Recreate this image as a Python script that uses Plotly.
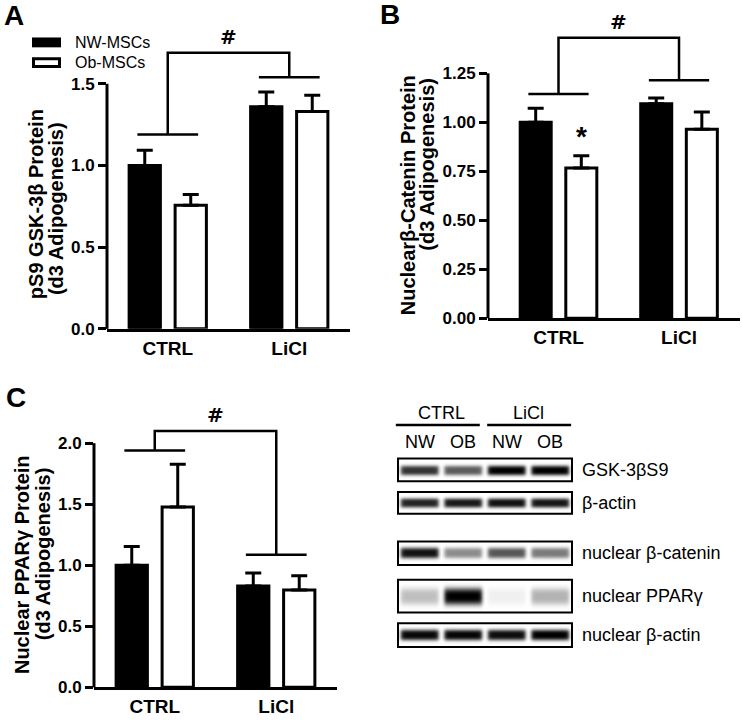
import numpy as np
import plotly.graph_objects as go

W, H = 742, 721
FONT = "Arial, Liberation Sans, sans-serif"

# ---------------- data ----------------
groups = ["CTRL", "LiCl"]
series_names = ["NW-MSCs", "Ob-MSCs"]

# Panel A: pS9 GSK-3beta
a_nw = [1.00, 1.36]
a_nw_err = [0.093, 0.09]
a_ob = [0.756, 1.33]
a_ob_err = [0.066, 0.10]
a_ticks = [0.0, 0.5, 1.0, 1.5]
a_bracket = [1.19, 1.54, 1.69]   # CTRL line, LiCl line, top

# Panel B: nuclear beta-catenin
b_nw = [1.00, 1.094]
b_nw_err = [0.072, 0.03]
b_ob = [0.767, 0.965]
b_ob_err = [0.062, 0.087]
b_ticks = [0.0, 0.25, 0.50, 0.75, 1.00, 1.25]
b_bracket = [1.144, 1.215, 1.432]

# Panel C: nuclear PPARgamma
c_nw = [1.00, 0.83]
c_nw_err = [0.153, 0.107]
c_ob = [1.478, 0.797]
c_ob_err = [0.35, 0.116]
c_ticks = [0.0, 0.5, 1.0, 1.5, 2.0]
c_bracket = [1.94, 1.086, 2.10]

# Blot (band darkness 0..1)
blot_lanes = ["NW", "OB", "NW", "OB"]
blot_conditions = ["CTRL", "LiCl"]
blot_rows = ["GSK-3βS9", "β-actin", "nuclear β-catenin", "nuclear PPARγ", "nuclear β-actin"]
blot_intensity = [
    [0.80, 0.64, 1.00, 1.00],
    [0.86, 0.90, 0.93, 0.91],
    [0.93, 0.45, 0.66, 0.52],
    [0.25, 1.00, 0.06, 0.30],
    [0.97, 0.98, 0.95, 1.00],
]

# ---------------- layout geometry (pixels) ----------------
panels = [
    dict(key="", nw=a_nw, nwe=a_nw_err, ob=a_ob, obe=a_ob_err, ticks=a_ticks, fmt=".1f",
         br=a_bracket, x0=107, x1=350, xr=[-0.5, 1.5], y0=333.5, unit=165.67, ytop=1.72,
         title=["pS9 GSK-3β Protein", "(d3 Adipogenesis)"], tpos=[(36, 207), (56, 212)],
         letter=("A", 14, 16), star=False),
    dict(key="2", nw=b_nw, nwe=b_nw_err, ob=b_ob, obe=b_ob_err, ticks=b_ticks, fmt=".2f",
         br=b_bracket, x0=488, x1=740, xr=[-0.585, 1.506], y0=322.7, unit=198.7, ytop=1.45,
         title=["Nuclearβ-Catenin Protein", "(d3 Adipogenesis)"], tpos=[(408, 198), (427, 167)],
         letter=("B", 390, 15), star=True),
    dict(key="3", nw=c_nw, nwe=c_nw_err, ob=c_ob, obe=c_ob_err, ticks=c_ticks, fmt=".1f",
         br=c_bracket, x0=94, x1=337, xr=[-0.5, 1.5], y0=697, unit=123.8, ytop=2.15,
         title=["Nuclear PPARγ Protein", "(d3 Adipogenesis)"], tpos=[(22, 573), (43, 562)],
         letter=("C", 16, 403), star=False),
]

fig = go.Figure()
shapes = []
annotations = []
layout_axes = {}
xpos = list(range(len(groups)))

for p in panels:
    k = p["key"]
    xa, ya = "x" + k, "y" + k
    fig.add_trace(go.Bar(
        x=xpos, y=p["nw"], name=series_names[0], xaxis=xa, yaxis=ya, showlegend=False,
        marker=dict(color="black", line=dict(color="black", width=3)),
        error_y=dict(type="data", symmetric=False, array=p["nwe"], arrayminus=[0] * len(xpos),
                     color="black", thickness=3, width=8)))
    fig.add_trace(go.Bar(
        x=xpos, y=p["ob"], name=series_names[1], xaxis=xa, yaxis=ya, showlegend=False,
        marker=dict(color="white", line=dict(color="black", width=3)),
        error_y=dict(type="data", symmetric=False, array=p["obe"], arrayminus=[0] * len(xpos),
                     color="black", thickness=3, width=8)))

    xdom = [p["x0"] / W, p["x1"] / W]
    ydom = [1 - p["y0"] / H, 1 - (p["y0"] - p["ytop"] * p["unit"]) / H]
    layout_axes["xaxis" + k] = dict(
        domain=xdom, range=p["xr"], anchor=ya, tickvals=xpos, ticktext=groups,
        showline=True, linewidth=3, linecolor="black", ticks="", showgrid=False,
        zeroline=False, fixedrange=True,
        tickfont=dict(family=FONT, size=19, color="black", weight="bold"))
    layout_axes["yaxis" + k] = dict(
        domain=ydom, range=[0, p["ytop"]], anchor=xa, tickvals=p["ticks"],
        ticktext=[format(t, p["fmt"]) for t in p["ticks"]],
        showline=False, ticks="outside", ticklen=8, tickwidth=3, tickcolor="black",
        showgrid=False, zeroline=False, fixedrange=True,
        tickfont=dict(family=FONT, size=17, color="black", weight="bold"))

    # y axis line stopping at the top tick
    shapes.append(dict(type="line", xref=xa + " domain", yref=ya + " domain",
                       x0=0, x1=0, y0=0, y1=p["ticks"][-1] / p["ytop"],
                       line=dict(color="black", width=3)))

    # significance bracket
    b0, b1, top = p["br"]
    for gi, bh in zip(xpos, [b0, b1]):
        shapes.append(dict(type="line", xref=xa, yref=ya, x0=gi - 0.25, x1=gi + 0.25,
                           y0=bh, y1=bh, line=dict(color="black", width=2.5)))
    shapes.append(dict(type="path", xref=xa, yref=ya,
                       path=f"M {xpos[0]},{b0} L {xpos[0]},{top} L {xpos[1]},{top} L {xpos[1]},{b1}",
                       line=dict(color="black", width=2.5)))
    annotations.append(dict(text="<b>#</b>", xref=xa, yref=ya, x=(xpos[0] + xpos[1]) / 2, y=top,
                            yshift=16, showarrow=False, xanchor="center", yanchor="middle",
                            font=dict(family="DejaVu Sans, Arial, sans-serif", size=20, color="black")))
    if p["star"]:
        annotations.append(dict(text="<b>*</b>", xref=xa, yref=ya, x=xpos[0] + 0.19,
                                y=p["ob"][0] + p["obe"][0], yshift=2, showarrow=False,
                                xanchor="center", yanchor="bottom",
                                font=dict(family=FONT, size=28, color="black")))

    # y titles
    for txt, (tx, ty) in zip(p["title"], p["tpos"]):
        annotations.append(dict(text=f"<b>{txt}</b>", xref="paper", yref="paper",
                                x=tx / W, y=1 - ty / H, textangle=-90, showarrow=False,
                                xanchor="center", yanchor="middle",
                                font=dict(family=FONT, size=20, color="black")))
    # panel letter
    L, lx, ly = p["letter"]
    annotations.append(dict(text=f"<b>{L}</b>", xref="paper", yref="paper", x=lx / W, y=1 - ly / H,
                            showarrow=False, xanchor="center", yanchor="middle",
                            font=dict(family=FONT, size=28, color="black")))

# ---------------- legend (panel A) ----------------
shapes.append(dict(type="rect", xref="paper", yref="paper", x0=32 / W, x1=61 / W,
                   y0=1 - 48 / H, y1=1 - 38 / H, fillcolor="black", line=dict(color="black", width=0)))
shapes.append(dict(type="rect", xref="paper", yref="paper", x0=33.5 / W, x1=59.5 / W,
                   y0=1 - 67.5 / H, y1=1 - 59.5 / H, fillcolor="white", line=dict(color="black", width=3)))
for nm, ly in zip(series_names, [43, 63]):
    annotations.append(dict(text=nm, xref="paper", yref="paper", x=73 / W, y=1 - ly / H,
                            showarrow=False, xanchor="left", yanchor="middle",
                            font=dict(family=FONT, size=16, color="black")))

# ---------------- blot (panel C right) ----------------
bx0, bx1 = 398, 572                 # box left/right in px
lane_px = (bx1 - bx0) / len(blot_lanes)
xr4 = [-0.15, len(blot_lanes) + 0.15]
layout_axes["xaxis4"] = dict(domain=[(bx0 + xr4[0] * lane_px) / W, (bx0 + xr4[1] * lane_px) / W],
                             range=xr4, anchor="y4", visible=False, fixedrange=True)
layout_axes["yaxis4"] = dict(domain=[1 - 662 / H, 1 - 405 / H], range=[662, 405], anchor="x4",
                             visible=False, fixedrange=True)

row_boxes = [(465, 488), (499, 521), (549, 573), (588, 621), (632, 656)]
row_band_w = [5.0, 4.8, 5.5, 8.5, 5.5]

ncols = 174
xs = (np.arange(ncols) + 0.5) * len(blot_lanes) / ncols
lane_idx = np.minimum(np.floor(xs).astype(int), len(blot_lanes) - 1)
frac = xs - lane_idx
sig = lambda t: 1 / (1 + np.exp(-t))
hprof = sig((frac - 0.07) / 0.025) * sig((0.93 - frac) / 0.025)

for (top, bot), inten, bw, label in zip(row_boxes, blot_intensity, row_band_w, blot_rows):
    ys = np.arange(top, bot) + 0.5
    d = ys - (top + bot) / 2
    vprof = np.exp(-np.abs(d / bw) ** 3)
    lane_int = np.array(inten)[lane_idx]
    z = vprof[:, None] * (lane_int * hprof)[None, :]
    fig.add_trace(go.Heatmap(x=xs, y=ys, z=z, xaxis="x4", yaxis="y4", zmin=0, zmax=1,
                             colorscale=[[0, "white"], [1, "black"]], showscale=False,
                             hoverinfo="skip"))
    shapes.append(dict(type="rect", xref="x4", yref="y4", x0=0, x1=len(blot_lanes), y0=top, y1=bot,
                       line=dict(color="black", width=2), fillcolor="rgba(0,0,0,0)"))
    annotations.append(dict(text=label, xref="x4", yref="y4", x=len(blot_lanes), y=(top + bot) / 2,
                            xshift=8, showarrow=False, xanchor="left", yanchor="middle",
                            font=dict(family=FONT, size=18, color="black")))

for i, cond in enumerate(blot_conditions):
    c0 = i * 2
    annotations.append(dict(text=cond, xref="x4", yref="y4", x=c0 + 1, y=419, showarrow=False,
                            xanchor="center", yanchor="middle",
                            font=dict(family=FONT, size=18, color="black")))
    shapes.append(dict(type="line", xref="x4", yref="y4", x0=c0 - 0.05 + 0.1 * i, x1=c0 + 1.88 + 0.1 * i,
                       y0=431, y1=431, line=dict(color="black", width=2.5)))
for i, ln in enumerate(blot_lanes):
    annotations.append(dict(text=ln, xref="x4", yref="y4", x=i + 0.5, y=448, showarrow=False,
                            xanchor="center", yanchor="middle",
                            font=dict(family=FONT, size=18, color="black")))

fig.update_layout(
    width=W, height=H, margin=dict(l=0, r=0, t=0, b=0),
    paper_bgcolor="white", plot_bgcolor="white",
    barmode="group", bargap=0.243, bargroupgap=0.32,
    shapes=shapes, annotations=annotations, showlegend=False,
    font=dict(family=FONT, color="black"),
    **layout_axes,
)

fig.write_html("out.html", config={"displayModeBar": False},
               post_script="document.body.style.margin='0';document.body.style.overflow='hidden';")
